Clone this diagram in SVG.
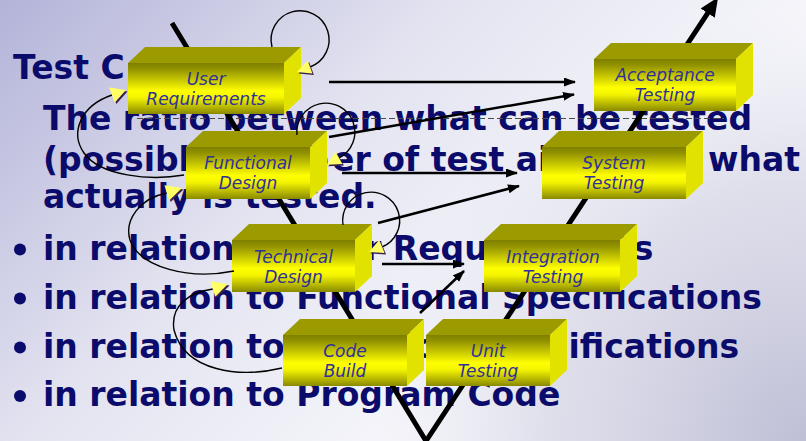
<svg xmlns="http://www.w3.org/2000/svg" width="806" height="441" viewBox="0 0 806 441">
<defs>
<linearGradient id="bg" gradientUnits="userSpaceOnUse" x1="0" y1="0" x2="430" y2="420">
<stop offset="0" stop-color="#b3b3d9"/>
<stop offset="0.55" stop-color="#e4e4f1"/>
<stop offset="1" stop-color="#f6f6fb"/>
</linearGradient>
<radialGradient id="bg2" gradientUnits="userSpaceOnUse" cx="806" cy="441" r="430">
<stop offset="0" stop-color="#b8b8d2" stop-opacity="0.9"/>
<stop offset="0.6" stop-color="#c8c8dc" stop-opacity="0.5"/>
<stop offset="1" stop-color="#d8d8e8" stop-opacity="0"/>
</radialGradient>
<linearGradient id="front" x1="0" y1="0" x2="0" y2="1">
<stop offset="0" stop-color="#7f7f00"/>
<stop offset="0.12" stop-color="#929200"/>
<stop offset="0.55" stop-color="#ffff00"/>
<stop offset="0.68" stop-color="#f4f400"/>
<stop offset="1" stop-color="#898900"/>
</linearGradient>
<marker id="ah" markerUnits="userSpaceOnUse" markerWidth="12" markerHeight="10" refX="11" refY="4.5" orient="auto">
<path d="M0,0 L12,4.5 L0,9 z" fill="#000"/>
</marker>
<marker id="ahBig" markerUnits="userSpaceOnUse" markerWidth="20" markerHeight="18" refX="1" refY="8.5" orient="auto">
<path d="M0,0 L19,8.5 L0,17 z" fill="#000"/>
</marker>
<style>
.t{font-family:"DejaVu Sans",Verdana,sans-serif;font-weight:bold;font-size:33px;fill:#0b0b6b}
.b{font-family:"DejaVu Sans",Verdana,sans-serif;font-style:oblique;font-size:17px;fill:#30309a;text-anchor:middle}
.top{fill:#9b9b00}
.side{fill:#e2e200}
.fr{fill:url(#front)}
.thin{fill:none;stroke:#000;stroke-width:2.5;marker-end:url(#ah)}
.loop{fill:none;stroke:#000;stroke-width:1.4}
.tipS{fill:#3a1f4c}
.tip{fill:#ffff66}
</style>
</defs>
<rect width="806" height="441" fill="url(#bg)"/>
<rect width="806" height="441" fill="url(#bg2)"/>

<g id="slide-text">
<text class="t" x="13" y="79">Test C</text>
<text class="t" x="43" y="130">The ratio between what can be tested</text>
<text class="t" y="171"><tspan x="43">(possible numb</tspan><tspan x="332">er of test aids) to </tspan><tspan x="708">what</tspan></text>
<text class="t" x="43" y="208">actually is tested.</text>
<circle cx="20" cy="249.5" r="6" fill="#0b0b6b"/>
<text class="t" x="43" y="260">in relation to User Requirements</text>
<circle cx="20" cy="298.5" r="6" fill="#0b0b6b"/>
<text class="t" x="43" y="309">in relation to Functional Specifications</text>
<circle cx="20" cy="347.5" r="6" fill="#0b0b6b"/>
<text class="t" x="43" y="357.5">in relation to Technical Specifications</text>
<circle cx="20" cy="396" r="6" fill="#0b0b6b"/>
<text class="t" x="43" y="406">in relation to Program Code</text>
</g>

<g id="connectors">
<line x1="137" y1="118.5" x2="724" y2="118.5" stroke="#4a4a4a" stroke-width="1.2" stroke-dasharray="6 3"/>
<path d="M172,23 L426,441 L708.2,12.3" fill="none" stroke="#000" stroke-width="5" stroke-linejoin="miter" marker-end="url(#ahBig)"/>
<path class="thin" d="M329,82 L575,82"/>
<path class="thin" d="M329,137 L574,94.5"/>
<path class="thin" d="M342,173 L517,173"/>
<path class="thin" d="M378,223 L519,186"/>
<path class="thin" d="M382,264 L464,264"/>
<path class="thin" d="M420,313 L464,271"/>
</g>

<g id="node-user-requirements">
<polygon class="top" points="128,63 145,47 301,47 284,63"/>
<polygon class="side" points="284,63 301,47 301,98 284,114"/>
<rect class="fr" x="128" y="63" width="156" height="51"/>
<text class="b" x="206" y="85">User</text>
<text class="b" x="206" y="105">Requirements</text>
</g>
<g id="node-functional-design">
<polygon class="top" points="186,147 203,131 327,131 310,147"/>
<polygon class="side" points="310,147 327,131 327,183 310,199"/>
<rect class="fr" x="186" y="147" width="124" height="52"/>
<text class="b" x="248" y="169">Functional</text>
<text class="b" x="248" y="189">Design</text>
</g>
<g id="node-technical-design">
<polygon class="top" points="232,240 249,224 372,224 355,240"/>
<polygon class="side" points="355,240 372,224 372,276 355,292"/>
<rect class="fr" x="232" y="240" width="123" height="52"/>
<text class="b" x="293.5" y="262.5">Technical</text>
<text class="b" x="293.5" y="282.5">Design</text>
</g>
<g id="node-code-build">
<polygon class="top" points="283,335 300,319 424,319 407,335"/>
<polygon class="side" points="407,335 424,319 424,370 407,386"/>
<rect class="fr" x="283" y="335" width="124" height="51"/>
<text class="b" x="345" y="357">Code</text>
<text class="b" x="345" y="377">Build</text>
</g>
<g id="node-acceptance-testing">
<polygon class="top" points="594,59 611,43 753,43 736,59"/>
<polygon class="side" points="736,59 753,43 753,95 736,111"/>
<rect class="fr" x="594" y="59" width="142" height="52"/>
<text class="b" x="665" y="81">Acceptance</text>
<text class="b" x="665" y="101">Testing</text>
</g>
<g id="node-system-testing">
<polygon class="top" points="542,147 559,131 703,131 686,147"/>
<polygon class="side" points="686,147 703,131 703,183 686,199"/>
<rect class="fr" x="542" y="147" width="144" height="52"/>
<text class="b" x="614" y="168.5">System</text>
<text class="b" x="614" y="188.5">Testing</text>
</g>
<g id="node-integration-testing">
<polygon class="top" points="484,240 501,224 637,224 620,240"/>
<polygon class="side" points="620,240 637,224 637,276 620,292"/>
<rect class="fr" x="484" y="240" width="136" height="52"/>
<text class="b" x="553" y="262.5">Integration</text>
<text class="b" x="553" y="282.5">Testing</text>
</g>
<g id="node-unit-testing">
<polygon class="top" points="426,335 443,319 567,319 550,335"/>
<polygon class="side" points="550,335 567,319 567,370 550,386"/>
<rect class="fr" x="426" y="335" width="124" height="51"/>
<text class="b" x="488" y="357">Unit</text>
<text class="b" x="488" y="377">Testing</text>
</g>

<g id="loop-connectors">
<path class="loop" d="M272,47 A29,29 0 1 1 310,67"/>
<polygon class="tipS" transform="translate(1.5,1.5)" points="297,72 312.4,73.6 307.6,60.4"/>
<polygon class="tip" points="297,72 312.4,73.6 307.6,60.4"/>

<path class="loop" d="M297,135 A29,29 0 1 1 339,158"/>
<polygon class="tipS" transform="translate(1.5,1.5)" points="326.8,164.8 342.4,164.1 335.6,151.9"/>
<polygon class="tip" points="326.8,164.8 342.4,164.1 335.6,151.9"/>

<path class="loop" d="M343,225 A28.5,28.5 0 1 1 382,247"/>
<polygon class="tipS" transform="translate(1.5,1.5)" points="369,252 384.6,252.9 379.2,240.1"/>
<polygon class="tip" points="369,252 384.6,252.9 379.2,240.1"/>

<path class="loop" d="M184,175 C150,181 100,176 84,153 C70,133 80,106 112,95"/>
<polygon class="tipS" transform="translate(1.5,1.5)" points="126,90 114.8,102.5 109.2,87.5"/>
<polygon class="tip" points="126,90 114.8,102.5 109.2,87.5"/>

<path class="loop" d="M234,271 C190,280 140,268 130,240 C124,220 140,198 167,193"/>
<polygon class="tipS" transform="translate(1.5,1.5)" points="182,188 169.2,200.5 164.4,185.3"/>
<polygon class="tip" points="182,188 169.2,200.5 164.4,185.3"/>

<path class="loop" d="M282,368 C240,378 185,372 174,330 C170,305 190,292 213,289"/>
<polygon class="tipS" transform="translate(1.5,1.5)" points="228,284 215.3,296.7 210.3,281.5"/>
<polygon class="tip" points="228,284 215.3,296.7 210.3,281.5"/>
</g>
</svg>
